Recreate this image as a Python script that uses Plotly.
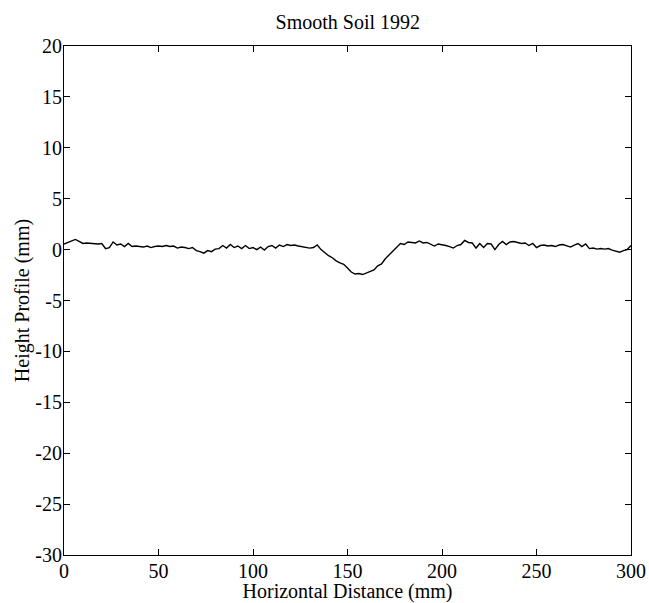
import plotly.graph_objects as go

# horizontal distance (mm) and height profile (mm)
distance = [
    0, 2, 4, 6, 8, 10, 12, 14, 16, 18, 20, 22, 24, 26, 28, 30, 32, 34, 36, 38,
    40, 42, 44, 46, 48, 50, 52, 54, 56, 58, 60, 62, 64, 66, 68, 70, 72, 74, 76, 78,
    80, 82, 84, 86, 88, 90, 92, 94, 96, 98, 100, 102, 104, 106, 108, 110, 112, 114, 116, 118,
    120, 122, 124, 126, 128, 130, 132, 134, 136, 138, 140, 142, 144, 146, 148, 150, 152, 154, 156, 158,
    160, 162, 164, 166, 168, 170, 172, 174, 176, 178, 180, 182, 184, 186, 188, 190, 192, 194, 196, 198,
    200, 202, 204, 206, 208, 210, 212, 214, 216, 218, 220, 222, 224, 226, 228, 230, 232, 234, 236, 238,
    240, 242, 244, 246, 248, 250, 252, 254, 256, 258, 260, 262, 264, 266, 268, 270, 272, 274, 276, 278,
    280, 282, 284, 286, 288, 290, 292, 294, 296, 298, 300,
]
height = [
    0.55, 0.7, 0.8, 1.0, 0.8, 0.6, 0.65, 0.6, 0.62, 0.55, 0.6, 0.1, 0.2, 0.75, 0.45, 0.55, 0.3, 0.6, 0.3, 0.35,
    0.3, 0.25, 0.35, 0.2, 0.3, 0.35, 0.3, 0.4, 0.3, 0.35, 0.15, 0.25, 0.2, 0.1, 0.2, -0.1, -0.2, -0.35, -0.1, -0.2,
    0.05, 0.1, 0.4, 0.15, 0.5, 0.2, 0.35, 0.1, 0.4, 0.1, 0.2, 0.0, 0.25, -0.05, 0.3, 0.4, 0.15, 0.45, 0.3, 0.5,
    0.4, 0.45, 0.35, 0.3, 0.2, 0.15, 0.2, 0.45, 0.0, -0.3, -0.6, -0.8, -1.1, -1.3, -1.45, -1.8, -2.2, -2.4, -2.35, -2.45,
    -2.3, -2.1, -2.0, -1.6, -1.4, -0.9, -0.5, -0.1, 0.3, 0.6, 0.5, 0.75, 0.7, 0.65, 0.85, 0.65, 0.7, 0.5, 0.35, 0.55,
    0.5, 0.4, 0.3, 0.15, 0.4, 0.5, 0.9, 0.7, 0.65, 0.15, 0.6, 0.2, 0.6, 0.55, 0.0, 0.5, 0.8, 0.5, 0.75, 0.8,
    0.7, 0.6, 0.65, 0.4, 0.6, 0.2, 0.4, 0.45, 0.35, 0.4, 0.3, 0.45, 0.5, 0.35, 0.25, 0.45, 0.6, 0.3, 0.55, 0.1,
    0.15, 0.05, 0.1, 0.05, 0.1, -0.05, -0.15, -0.25, -0.1, 0.0, 0.4,
]

x_ticks = [0, 50, 100, 150, 200, 250, 300]
y_ticks = [-30, -25, -20, -15, -10, -5, 0, 5, 10, 15, 20]
y_tick_labels = ["-30", "-25", "-20", "-15", "-10", "-5", "0", "5", "10", "15", "20"]

font = dict(family="Liberation Serif, Times New Roman, serif", size=20, color="black")

fig = go.Figure()
fig.add_trace(go.Scatter(x=distance, y=height, mode="lines",
                         line=dict(color="black", width=1.4), showlegend=False))

axis_style = dict(showline=True, linecolor="black", linewidth=1, mirror="ticks",
                  ticks="inside", ticklen=6, tickcolor="black", tickwidth=1,
                  showgrid=False, zeroline=False, tickfont=font, automargin=False)

fig.update_xaxes(range=[0, 300], tickvals=x_ticks, ticklabelstandoff=-2,
                 title=dict(text="Horizontal Distance (mm)", font=font, standoff=8),
                 **axis_style)
fig.update_yaxes(range=[-30, 20], tickvals=y_ticks, ticktext=y_tick_labels,
                 ticklabelstandoff=-3,
                 title=dict(text="Height Profile (mm)", font=font, standoff=0),
                 **axis_style)

fig.update_layout(
    width=649, height=603,
    margin=dict(l=64, r=18, t=46, b=48),
    paper_bgcolor="white", plot_bgcolor="white",
    font=font,
    title=dict(text="Smooth Soil 1992", font=font, x=0.536, xanchor="center",
               y=1 - 22 / 603, yanchor="middle"),
)

# drop the page's default body margin so the figure fills the window exactly
fig.write_html("out.html", config={"displayModeBar": False},
               post_script="document.body.style.margin='0';document.body.style.overflow='hidden';")
